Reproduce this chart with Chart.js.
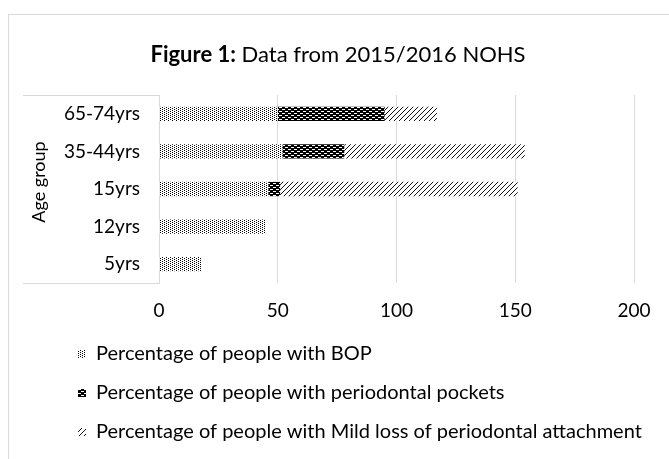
<!DOCTYPE html>
<html>
<head>
<meta charset="utf-8">
<script src="https://cdn.jsdelivr.net/npm/chart.js@4.4.1/dist/chart.umd.min.js"></script>
<style>
  html, body { margin: 0; padding: 0; background: #fff; }
  #wrap { position: relative; width: 669px; height: 459px; overflow: hidden; }
  #frame { position: absolute; left: 8px; top: 14px; width: 720px; height: 520px;
           border-left: 1px solid #d9d9d9; border-top: 1px solid #d9d9d9; }
  canvas { position: absolute; left: 0; top: 0; }
</style>
</head>
<body>
<div id="wrap">
  <div id="frame"></div>
  <canvas id="chart" width="669" height="459"></canvas>
</div>
<script>
// Age groups, top to bottom
const ageGroups = ['65-74yrs', '35-44yrs', '15yrs', '12yrs', '5yrs'];

// Percentages per age group (stacked)
const bopPct       = [50, 52, 46, 45, 18];
const pocketPct    = [45, 26, 5, null, null];
const mildLossPct  = [22, 76, 100, null, null];

const seriesNames = [
  'Percentage of people with BOP',
  'Percentage of people with periodontal pockets',
  'Percentage of people with Mild loss of periodontal attachment'
];

const xTicks = [0, 50, 100, 150, 200];
const titleBold = 'Figure 1:';
const titleRest = ' Data from 2015/2016 NOHS';
const yAxisTitle = 'Age group';

const FONT = 'Lato, "Open Sans", sans-serif';
const canvas = document.getElementById('chart');
const ctx = canvas.getContext('2d');

function tile(w, h, paint) {
  const c = document.createElement('canvas');
  c.width = w; c.height = h;
  const g = c.getContext('2d');
  paint(g);
  return ctx.createPattern(c, 'repeat');
}

// dotted fill
const dotFill = tile(4, 4, g => {
  g.fillStyle = '#fff'; g.fillRect(0, 0, 4, 4);
  g.fillStyle = '#000';
  g.fillRect(0, 0, 1, 1); g.fillRect(0, 2, 1, 1);
  g.fillRect(2, 1, 1, 1); g.fillRect(2, 3, 1, 1);
});
// dark brick fill with light dashes
const brickFill = tile(6, 4, g => {
  g.fillStyle = '#000'; g.fillRect(0, 0, 6, 4);
  g.fillStyle = '#fff';
  g.fillRect(0, 1, 3, 1); g.fillRect(3, 3, 3, 1);
});
// diagonal stripes
const stripeFill = tile(5, 5, g => {
  g.fillStyle = '#fff'; g.fillRect(0, 0, 5, 5);
  g.fillStyle = '#111';
  for (let i = 0; i < 5; i++) g.fillRect(4 - i, i, 1, 1);
});
const fills = [dotFill, brickFill, stripeFill];

const gridGray = '#d9d9d9';

const decorations = {
  id: 'decorations',
  beforeDatasetsDraw(chart) {
    const { ctx, chartArea } = chart;
    ctx.save();
    // box lines around the category labels
    ctx.strokeStyle = gridGray;
    ctx.lineWidth = 1;
    ctx.beginPath();
    ctx.moveTo(23, Math.round(chartArea.top) + 0.5);
    ctx.lineTo(chartArea.left, Math.round(chartArea.top) + 0.5);
    ctx.moveTo(23, Math.round(chartArea.bottom) + 0.5);
    ctx.lineTo(chartArea.left, Math.round(chartArea.bottom) + 0.5);
    ctx.stroke();
    ctx.restore();
  },
  afterDraw(chart) {
    const { ctx } = chart;
    ctx.save();
    // title with bold lead-in
    ctx.fillStyle = '#000';
    ctx.textBaseline = 'middle';
    ctx.font = 'bold 22px ' + FONT;
    const wb = ctx.measureText(titleBold).width;
    ctx.font = '22px ' + FONT;
    const wr = ctx.measureText(titleRest).width;
    const x0 = 338 - (wb + wr) / 2;
    ctx.font = 'bold 22px ' + FONT;
    ctx.textAlign = 'left';
    ctx.fillText(titleBold, x0, 55);
    ctx.font = '22px ' + FONT;
    ctx.fillText(titleRest, x0 + wb, 55);

    // y axis title
    ctx.save();
    ctx.translate(39, 182);
    ctx.rotate(-Math.PI / 2);
    ctx.textAlign = 'center';
    ctx.font = '18px ' + FONT;
    ctx.fillText(yAxisTitle, 0, 0);
    ctx.restore();

    // legend, one entry per row
    const rows = [354, 393, 432];
    chart.data.datasets.forEach((ds, i) => {
      const y = rows[i];
      ctx.fillStyle = ds.backgroundColor;
      ctx.fillRect(78, y - 4, 8, 8);
      ctx.fillStyle = '#000';
      ctx.font = '20px ' + FONT;
      ctx.textAlign = 'left';
      ctx.fillText(ds.label, 96, y);
    });
    ctx.restore();
  }
};

new Chart(canvas, {
  type: 'bar',
  data: {
    labels: ageGroups,
    datasets: [bopPct, pocketPct, mildLossPct].map((vals, i) => ({
      label: seriesNames[i],
      data: vals,
      backgroundColor: fills[i],
      borderWidth: 0,
      barPercentage: 0.38,
      categoryPercentage: 1
    }))
  },
  options: {
    indexAxis: 'y',
    responsive: false,
    animation: false,
    layout: { padding: { left: 23, top: 95, right: 35, bottom: 139 } },
    plugins: { legend: { display: false }, tooltip: { enabled: false }, title: { display: false } },
    scales: {
      x: {
        stacked: true,
        min: 0, max: 200,
        afterBuildTicks(scale) { scale.ticks = xTicks.map(v => ({ value: v })); },
        afterFit(scale) { scale.height = 37; },
        grid: { color: gridGray, drawTicks: false },
        border: { display: false },
        ticks: { color: '#000', padding: 16, font: { family: FONT, size: 19 } }
      },
      y: {
        stacked: true,
        afterFit(scale) { scale.width = 136; },
        grid: { display: false, drawTicks: false },
        border: { color: gridGray },
        ticks: { color: '#000', padding: 19, font: { family: FONT, size: 19 } }
      }
    }
  },
  plugins: [decorations]
});
</script>
</body>
</html>
